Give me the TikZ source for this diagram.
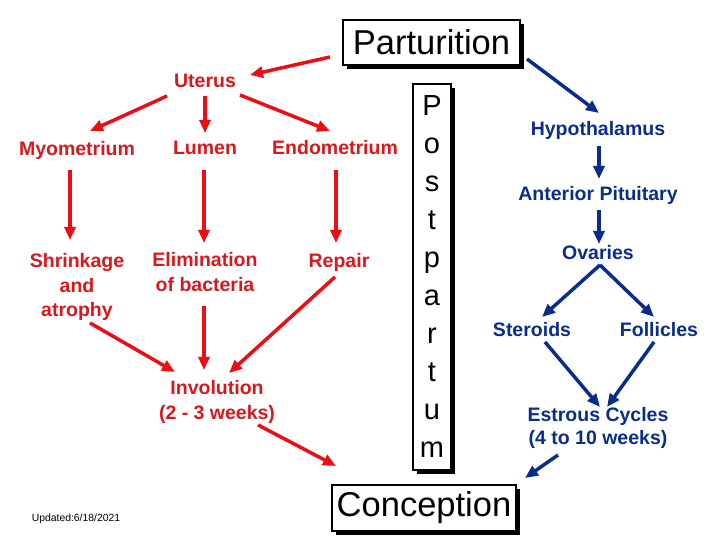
\documentclass[tikz,border=0pt]{standalone}
\usepackage{fontspec}
\setmainfont{Liberation Sans}
\usepackage{xcolor}
\usetikzlibrary{arrows.meta, shadows}

\definecolor{arrred}{RGB}{235,15,20}
\definecolor{txtred}{RGB}{215,25,30}
\definecolor{navy}{RGB}{10,45,140}

\begin{document}
\begin{tikzpicture}[x=1pt, y=1pt,
    redarr/.style={draw=arrred, line width=3.5pt, -{Triangle[length=13pt,width=11pt]}},
    bluearr/.style={draw=navy, line width=3.5pt, -{Triangle[length=13pt,width=11pt]}},
    redlbl/.style={text=txtred, align=center, inner sep=1pt, font=\fontsize{19.5}{24.5}\selectfont\bfseries},
    bluelbl/.style={text=navy, align=center, inner sep=1pt, font=\fontsize{19.5}{23}\selectfont\bfseries},
    bigbox/.style={draw=black, line width=1.2pt, fill=white, inner sep=0pt,
        drop shadow={shadow xshift=4pt, shadow yshift=-4pt, opacity=1, fill=black}}]
            \useasboundingbox (0,0) rectangle (720,540);
            \fill[white] (0,0) rectangle (720,540);
            % boxes
            \node[bigbox, minimum width=177pt, minimum height=45pt, font=\fontsize{34.5}{40}\selectfont] (partu) at (431.5,497.5) {Parturition};
            \node[bigbox, minimum width=184pt, minimum height=46pt, font=\fontsize{34.5}{40}\selectfont] (concep) at (424,32) {Conception};
            \node[bigbox, minimum width=38pt, minimum height=386pt, align=center, font=\fontsize{29}{38}\selectfont] (post) at (432,263) {P\\o\\s\\t\\p\\a\\r\\t\\u\\m};
            % uterus side
            \node[redlbl] (uterus) at (205,459) {Uterus};
            \node[redlbl] (myo) at (77,390) {Myometrium};
            \node[redlbl] (lumen) at (205,392) {Lumen};
            \node[redlbl] (endo) at (335,392) {Endometrium};
            \node[redlbl] (shrink) at (77,253) {Shrinkage\\and\\atrophy};
            \node[redlbl] (elim) at (205,268) {Elimination\\of bacteria};
            \node[redlbl] (repair) at (339,278) {Repair};
            \node[redlbl] (invol) at (217,138) {Involution\\(2 - 3 weeks)};
            % hormonal side
            \node[bluelbl] (hypo) at (598,410) {Hypothalamus};
            \node[bluelbl] (ant) at (598,345) {Anterior Pituitary};
            \node[bluelbl] (ovar) at (598,287) {Ovaries};
            \node[bluelbl] (ster) at (532,210) {Steroids};
            \node[bluelbl] (foll) at (659,210) {Follicles};
            \node[bluelbl] (estr) at (598,112) {Estrous Cycles\\(4 to 10 weeks)};
            \node[font=\fontsize{10.4}{12}\selectfont] (upd) at (76,21) {Updated:6/18/2021};
            % red arrows
            \draw[redarr] ([shift={(-101.5,-14.5)}]partu.center) -- ([shift={(45,6)}]uterus.center);
            \draw[redarr] ([shift={(-38,-15)}]uterus.center) -- ([shift={(13,19)}]myo.center);
            \draw[redarr] ([shift={(0,-15)}]uterus.center) -- ([shift={(0,15)}]lumen.center);
            \draw[redarr] ([shift={(35,-14)}]uterus.center) -- ([shift={(-5,17)}]endo.center);
            \draw[redarr] ([shift={(-7,-20)}]myo.center) -- ([shift={(-7,47)}]shrink.center);
            \draw[redarr] ([shift={(-1,-22)}]lumen.center) -- ([shift={(-1,29)}]elim.center);
            \draw[redarr] ([shift={(1,-22)}]endo.center) -- ([shift={(-3,19)}]repair.center);
            \draw[redarr] ([shift={(13,-36)}]shrink.center) -- ([shift={(-42,30)}]invol.center);
            \draw[redarr] ([shift={(-1,-34)}]elim.center) -- ([shift={(-13,32)}]invol.center);
            \draw[redarr] ([shift={(-4,-15)}]repair.center) -- ([shift={(12,29)}]invol.center);
            \draw[redarr] ([shift={(41,-23)}]invol.center) -- ([shift={(-88,42)}]concep.center);
            % blue arrows
            \draw[bluearr] ([shift={(95.5,-16.5)}]partu.center) -- ([shift={(1,17)}]hypo.center);
            \draw[bluearr] ([shift={(1,-16)}]hypo.center) -- ([shift={(1,16)}]ant.center);
            \draw[bluearr] ([shift={(1,-15)}]ant.center) -- ([shift={(1,9)}]ovar.center);
            \draw[bluearr] ([shift={(2,-12)}]ovar.center) -- ([shift={(10,13)}]ster.center);
            \draw[bluearr] ([shift={(2,-12)}]ovar.center) -- ([shift={(-5,13)}]foll.center);
            \draw[bluearr] ([shift={(13,-12)}]ster.center) -- ([shift={(2,21)}]estr.center);
            \draw[bluearr] ([shift={(-5,-12)}]foll.center) -- ([shift={(9,21)}]estr.center);
            \draw[bluearr] ([shift={(-40,-27)}]estr.center) -- ([shift={(101,30)}]concep.center);
        \end{tikzpicture}
\end{document}
